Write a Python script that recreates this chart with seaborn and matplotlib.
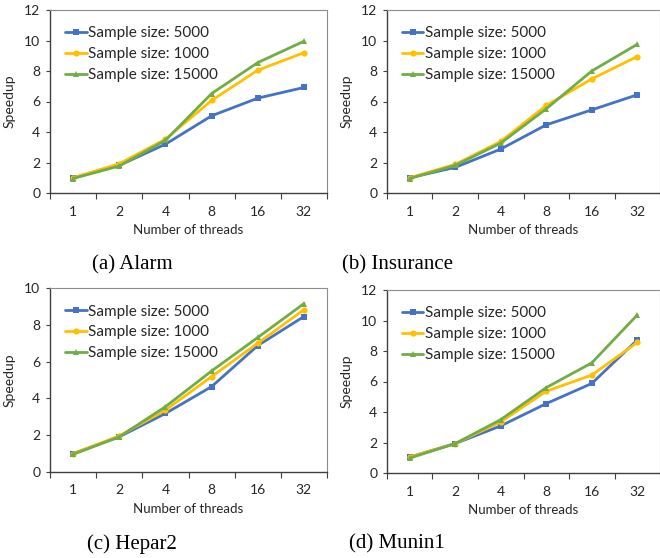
"""Speedup vs number of threads for four Bayesian networks (2x2 panels)."""

import matplotlib
matplotlib.use("Agg")
import matplotlib.pyplot as plt
import pandas as pd
import seaborn as sns

sns.set_theme(style="white")
plt.rcParams["font.family"] = ["Lato", "DejaVu Sans"]

THREADS = ["1", "2", "4", "8", "16", "32"]
SERIES = ["Sample size: 5000", "Sample size: 1000", "Sample size: 15000"]
COLORS = ["#4472C4", "#FFC000", "#70AD47"]
MARKERS = ["s", "o", "^"]

# speedup per panel, one list per series (5000, 1000, 15000)
alarm_5000 = [1.0, 1.81, 3.2, 5.06, 6.22, 6.92]
alarm_1000 = [1.0, 1.92, 3.53, 6.07, 8.05, 9.2]
alarm_15000 = [0.95, 1.77, 3.45, 6.52, 8.55, 9.95]

insurance_5000 = [1.0, 1.68, 2.88, 4.47, 5.45, 6.44]
insurance_1000 = [1.0, 1.88, 3.38, 5.74, 7.48, 8.95]
insurance_15000 = [0.95, 1.81, 3.27, 5.52, 8.0, 9.75]

hepar2_5000 = [1.0, 1.91, 3.18, 4.64, 6.87, 8.45]
hepar2_1000 = [1.0, 1.96, 3.36, 5.18, 7.0, 8.82]
hepar2_15000 = [0.96, 1.91, 3.55, 5.49, 7.31, 9.15]

munin1_5000 = [1.05, 1.93, 3.09, 4.55, 5.87, 8.72]
munin1_1000 = [1.05, 1.93, 3.35, 5.36, 6.42, 8.56]
munin1_15000 = [0.98, 1.93, 3.5, 5.6, 7.22, 10.36]

PANELS = [
    ("(a) Alarm", [alarm_5000, alarm_1000, alarm_15000], 12),
    ("(b) Insurance", [insurance_5000, insurance_1000, insurance_15000], 12),
    ("(c) Hepar2", [hepar2_5000, hepar2_1000, hepar2_15000], 10),
    ("(d) Munin1", [munin1_5000, munin1_1000, munin1_15000], 12),
]

W, H = 660, 558
# axes boxes in pixels: left, top, right, bottom
BOXES = [(50, 10, 327, 193), (387, 10, 660, 193),
         (50, 288, 327, 472), (387, 290, 660, 473)]
CAPTION_Y = [265, 265, 544, 544]
CAPTION_X = [132, 398, 132, 397]


def make_frame(values):
    rows = []
    for name, ys in zip(SERIES, values):
        for i, y in enumerate(ys):
            rows.append({"pos": i, "threads": THREADS[i], "series": name, "speedup": y})
    return pd.DataFrame(rows)


def draw_panel(fig, box, values, ymax):
    l, t, r, b = box
    ax = fig.add_axes([l / W, 1 - b / H, (r - l) / W, (b - t) / H])
    df = make_frame(values)
    for name, color, marker in zip(SERIES, COLORS, MARKERS):
        sns.lineplot(data=df[df["series"] == name], x="pos", y="speedup",
                     color=color, marker=marker, markersize=4.5,
                     markeredgewidth=0, linewidth=2, label=name, ax=ax)

    ax.set_xlim(-0.5, len(THREADS) - 0.5)
    ax.set_ylim(0, ymax)
    ax.set_yticks(range(0, ymax + 1, 2))
    ax.set_xticks(range(len(THREADS)))
    ax.set_xticklabels(THREADS)
    ax.set_xticks([i - 0.5 for i in range(len(THREADS) + 1)], minor=True)
    ax.tick_params(axis="x", which="major", length=0, labelsize=10,
                   pad=9, colors="#262626")
    ax.tick_params(axis="x", which="minor", bottom=True, length=4,
                   width=0.8, color="#404040")
    ax.tick_params(axis="y", left=True, length=3, width=0.8, labelsize=10,
                   pad=4, color="#404040", labelcolor="#262626")

    for side in ["left", "bottom"]:
        ax.spines[side].set_color("#404040")
        ax.spines[side].set_linewidth(1.0)
    for side in ["top", "right"]:
        ax.spines[side].set_color("#8c8c8c")
        ax.spines[side].set_linewidth(0.8)

    ax.set_xlabel("Number of threads", fontsize=9.5, color="#262626", labelpad=5)
    ax.set_ylabel("Speedup", fontsize=10, color="#262626", labelpad=6)

    ax.legend(loc="upper left", bbox_to_anchor=(0.055, 0.91), frameon=False,
              fontsize=11, handlelength=1.4, handletextpad=0.1,
              labelspacing=0.45, borderaxespad=0, borderpad=0)
    return ax


def main():
    fig = plt.figure(figsize=(W / 100, H / 100), dpi=100)
    for (caption, values, ymax), box, cx, cy in zip(PANELS, BOXES, CAPTION_X, CAPTION_Y):
        draw_panel(fig, box, values, ymax)
        fig.text(cx / W, 1 - cy / H, caption, ha="center", va="center",
                 fontsize=15, family=["Liberation Serif", "DejaVu Serif"],
                 color="black")
    fig.savefig("out.png", dpi=100)
    plt.close(fig)


if __name__ == "__main__":
    main()
